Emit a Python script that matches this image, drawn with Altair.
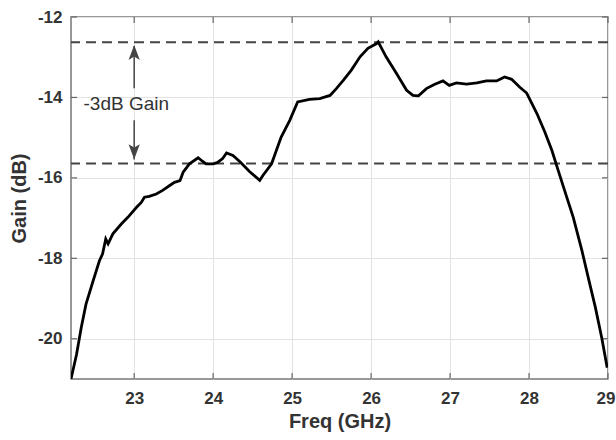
import altair as alt
import pandas as pd

freq = [22.20, 22.27, 22.33, 22.39, 22.48, 22.56, 22.60, 22.64, 22.67, 22.73,
        22.84, 22.92, 23.03, 23.09, 23.13, 23.19, 23.28, 23.36, 23.45, 23.51,
        23.58, 23.62, 23.70, 23.81, 23.86, 23.91, 24.00, 24.06, 24.12, 24.17,
        24.25, 24.34, 24.46, 24.59, 24.63, 24.74, 24.86, 24.97, 25.07, 25.22,
        25.35, 25.48, 25.56, 25.65, 25.75, 25.86, 25.96, 26.07, 26.09, 26.19,
        26.32, 26.45, 26.53, 26.60, 26.70, 26.80, 26.91, 26.99, 27.08, 27.21,
        27.34, 27.46, 27.59, 27.69, 27.78, 27.88, 27.97, 28.10, 28.20, 28.29,
        28.37, 28.45, 28.56, 28.67, 28.75, 28.84, 28.92, 28.99]
gain = [-21.00, -20.39, -19.72, -19.14, -18.56, -18.06, -17.89, -17.52, -17.64, -17.39,
        -17.14, -16.98, -16.73, -16.61, -16.48, -16.46, -16.40, -16.31, -16.19, -16.11,
        -16.07, -15.86, -15.65, -15.50, -15.58, -15.65, -15.65, -15.61, -15.52, -15.38,
        -15.44, -15.60, -15.84, -16.06, -15.94, -15.65, -14.99, -14.57, -14.11, -14.05,
        -14.03, -13.95, -13.78, -13.57, -13.32, -12.99, -12.78, -12.66, -12.62, -12.99,
        -13.40, -13.82, -13.95, -13.96, -13.78, -13.68, -13.59, -13.70, -13.64, -13.67,
        -13.64, -13.59, -13.59, -13.49, -13.55, -13.74, -13.89, -14.40, -14.86, -15.32,
        -15.82, -16.31, -16.98, -17.81, -18.48, -19.22, -19.97, -20.72]

x_ticks = [23, 24, 25, 26, 27, 28, 29]
y_ticks = [-20, -18, -16, -14, -12]
dash_levels = [-12.63, -15.64]
arrow_x = 23
arrow_upper = [-12.72, -13.77]
arrow_lower = [-14.57, -15.54]
head_up_y = -12.88
head_down_y = -15.35
label_text = "-3dB Gain"
label_pos = [22.90, -14.16]

FONT = "Arial, Liberation Sans"
W, H = 537, 362

xs = alt.Scale(domain=[22.2, 29], nice=False, zero=False)
ys = alt.Scale(domain=[-21, -12], nice=False, zero=False)

df = pd.DataFrame({"freq": freq, "gain": gain})

xaxis = alt.Axis(values=x_ticks, title="Freq (GHz)", labelFont=FONT, labelFontSize=17,
                 labelFontWeight="bold", labelColor="#333333", labelPadding=11,
                 labelExpr="'' + datum.value",
                 tickSize=0, domain=False, grid=True, gridColor="#e2e2e2",
                 titleFont=FONT, titleFontSize=20, titleFontWeight="bold",
                 titleColor="#333333", titlePadding=5,
                 labelFlush=True, labelFlushOffset=7)
yaxis = alt.Axis(values=y_ticks, title="Gain (dB)", labelFont=FONT, labelFontSize=17,
                 labelFontWeight="bold", labelColor="#333333", labelPadding=9,
                 labelExpr="'' + datum.value",
                 tickSize=0, domain=False, grid=True, gridColor="#e2e2e2",
                 titleFont=FONT, titleFontSize=20, titleFontWeight="bold",
                 titleColor="#333333", titleX=-42, titleY=H / 2, titleAngle=-90,
                 titleBaseline="bottom", titleAlign="center", labelFlush=False)

line = alt.Chart(df).mark_line(color="black", strokeWidth=2.8, clip=True).encode(
    x=alt.X("freq:Q", scale=xs, axis=xaxis),
    y=alt.Y("gain:Q", scale=ys, axis=yaxis),
)

dash = alt.Chart(pd.DataFrame({"g": dash_levels})).mark_rule(
    color="#444444", strokeWidth=2, strokeDash=[10, 6]).encode(
    y=alt.Y("g:Q", scale=ys))

shafts = alt.Chart(pd.DataFrame({
    "x": [arrow_x, arrow_x], "y1": [arrow_upper[0], arrow_lower[0]],
    "y2": [arrow_upper[1], arrow_lower[1]]})).mark_rule(
    color="#444444", strokeWidth=1.5).encode(
    x=alt.X("x:Q", scale=xs), y=alt.Y("y1:Q", scale=ys), y2="y2:Q")

head_up = alt.Chart(pd.DataFrame({"x": [arrow_x], "y": [head_up_y]})).mark_point(
    shape="M0,-1L-0.75,1L0,0.55L0.75,1Z", size=225, filled=True, opacity=1,
    color="#444444").encode(x=alt.X("x:Q", scale=xs), y=alt.Y("y:Q", scale=ys))
head_down = alt.Chart(pd.DataFrame({"x": [arrow_x], "y": [head_down_y]})).mark_point(
    shape="M0,1L-0.75,-1L0,-0.55L0.75,-1Z", size=225, filled=True, opacity=1,
    color="#444444").encode(x=alt.X("x:Q", scale=xs), y=alt.Y("y:Q", scale=ys))

label = alt.Chart(pd.DataFrame({"x": [label_pos[0]], "y": [label_pos[1]],
                                "t": [label_text]})).mark_text(
    font=FONT, fontSize=19, color="#333333", align="center", baseline="middle").encode(
    x=alt.X("x:Q", scale=xs), y=alt.Y("y:Q", scale=ys), text="t:N")

tx = pd.DataFrame({"v": x_ticks})
ty = pd.DataFrame({"v": y_ticks})
tick_c = "#666666"
tick_top = alt.Chart(tx).mark_rule(color=tick_c, strokeWidth=1.2).encode(
    x=alt.X("v:Q", scale=xs), y=alt.value(0), y2=alt.value(6))
tick_bot = alt.Chart(tx).mark_rule(color=tick_c, strokeWidth=1.2).encode(
    x=alt.X("v:Q", scale=xs), y=alt.value(H), y2=alt.value(H - 6))
tick_left = alt.Chart(ty).mark_rule(color=tick_c, strokeWidth=1.2).encode(
    y=alt.Y("v:Q", scale=ys), x=alt.value(0), x2=alt.value(6))
tick_right = alt.Chart(ty).mark_rule(color=tick_c, strokeWidth=1.2).encode(
    y=alt.Y("v:Q", scale=ys), x=alt.value(W), x2=alt.value(W - 6))

chart = alt.layer(
    dash, tick_top, tick_bot, tick_left, tick_right, shafts, head_up, head_down,
    label, line
).properties(
    width=W, height=H,
    autosize=alt.AutoSizeParams(type="none"),
    padding={"left": 71, "top": 17, "right": 8, "bottom": 61},
    background="white",
).configure_view(stroke="#777777", strokeWidth=1.5)

chart.save("out.html", embed_options={"renderer": "svg", "actions": False})
